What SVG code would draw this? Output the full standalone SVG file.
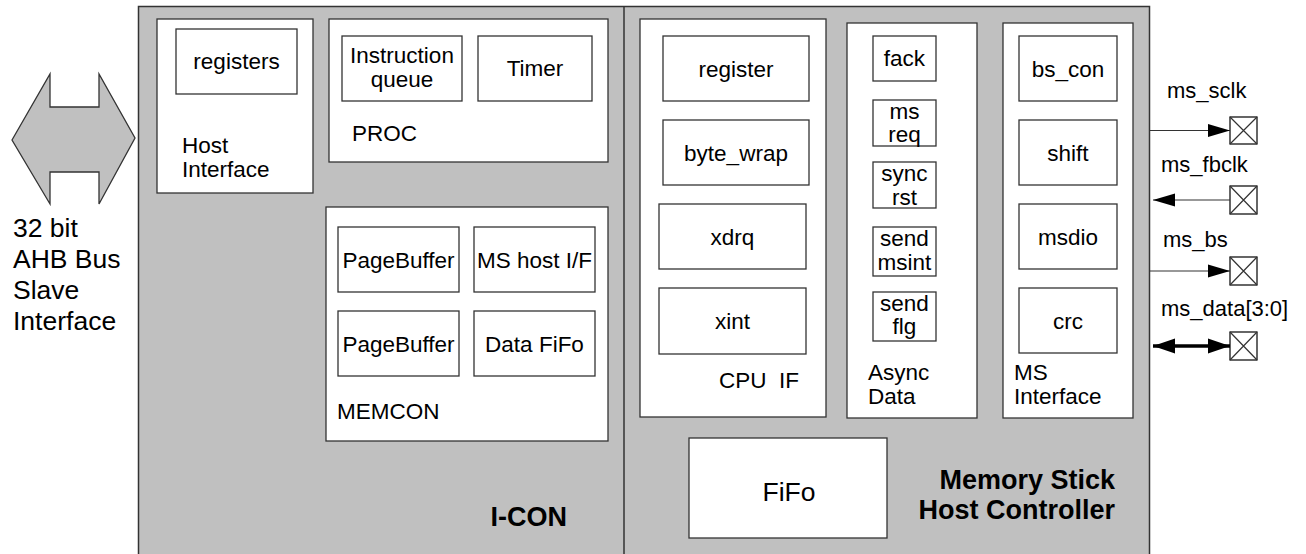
<svg xmlns="http://www.w3.org/2000/svg" width="1306" height="554" viewBox="0 0 1306 554">
<style>
  .bg { fill: #c0c0c0; stroke: #333; stroke-width: 1.5; }
  .box { fill: #fff; stroke: #333; stroke-width: 1.3; }
  text { font-family: "Liberation Sans", Arial, sans-serif; font-size: 22.5px; fill: #000; }
  .c { text-anchor: middle; }
  .big { font-size: 26.5px; }
  .bold { font-size: 27px; font-weight: bold; text-anchor: end; }
  .sig { font-size: 22px; }
  .wire { stroke: #333; stroke-width: 1.2; fill: none; }
  .bus { stroke: #000; stroke-width: 3.5; fill: none; }
  .pad { fill: #fff; stroke: #000; stroke-width: 1.2; }
</style>
<defs>
  <marker id="ah" markerUnits="userSpaceOnUse" markerWidth="24" markerHeight="14" refX="22" refY="7" orient="auto-start-reverse">
    <polygon points="0,0.5 22,7 0,13.5" fill="#000"/>
  </marker>
  <marker id="ahb" markerUnits="userSpaceOnUse" markerWidth="24" markerHeight="16" refX="22" refY="8" orient="auto-start-reverse">
    <polygon points="0,0.5 22,8 0,15.5" fill="#000"/>
  </marker>
</defs>

<!-- background containers -->
<g id="chip">
  <rect class="bg" x="138.5" y="6.5" width="1011" height="560"/>
  <line x1="624" y1="6.5" x2="624" y2="554" stroke="#333" stroke-width="1.5"/>
  <text class="bold" x="567" y="526">I-CON</text>
  <text class="bold" x="1115" y="489">Memory Stick</text>
  <text class="bold" x="1115" y="519">Host Controller</text>
</g>

<!-- AHB bus -->
<g id="ahb-bus">
  <polygon points="12,140 50,74 50,107 99,107 99,74 135,138 99,204 99,172 50,172 50,204" fill="#c0c0c0" stroke="#333" stroke-width="1.3"/>
  <text class="big" x="13" y="237">32 bit</text>
  <text class="big" x="13" y="268">AHB Bus</text>
  <text class="big" x="13" y="299">Slave</text>
  <text class="big" x="13" y="330">Interface</text>
</g>

<g id="host-interface">
  <rect class="box" x="157" y="19" width="156" height="174"/>
  <rect class="box" x="176" y="29" width="121" height="65"/>
  <text class="c" x="236.5" y="69">registers</text>
  <text x="182" y="153">Host</text>
  <text x="182" y="177">Interface</text>
</g>

<g id="proc">
  <rect class="box" x="329" y="19" width="279" height="143"/>
  <rect class="box" x="342" y="36" width="120" height="65"/>
  <text class="c" x="402" y="63">Instruction</text>
  <text class="c" x="402" y="87">queue</text>
  <rect class="box" x="478" y="36" width="114" height="65"/>
  <text class="c" x="535" y="76">Timer</text>
  <text x="352" y="141">PROC</text>
</g>

<g id="memcon">
  <rect class="box" x="326" y="207" width="282" height="234"/>
  <rect class="box" x="338" y="227" width="121" height="65"/>
  <text class="c" x="398.5" y="267.5">PageBuffer</text>
  <rect class="box" x="474" y="227" width="121" height="65"/>
  <text class="c" x="534.5" y="267.5">MS host I/F</text>
  <rect class="box" x="338" y="311" width="121" height="65"/>
  <text class="c" x="398.5" y="351.5">PageBuffer</text>
  <rect class="box" x="474" y="311" width="121" height="65"/>
  <text class="c" x="534.5" y="351.5">Data FiFo</text>
  <text x="337" y="419">MEMCON</text>
</g>

<g id="cpu-if">
  <rect class="box" x="640" y="19" width="186" height="398"/>
  <rect class="box" x="663" y="36" width="146" height="65"/>
  <text class="c" x="736" y="76.5">register</text>
  <rect class="box" x="663" y="120" width="146" height="65"/>
  <text class="c" x="736" y="160.5">byte_wrap</text>
  <rect class="box" x="659" y="204" width="147" height="65"/>
  <text class="c" x="732.5" y="244.5">xdrq</text>
  <rect class="box" x="659" y="288" width="147" height="66"/>
  <text class="c" x="732.5" y="329">xint</text>
  <text x="719" y="388" xml:space="preserve">CPU  IF</text>
</g>

<g id="async-data">
  <rect class="box" x="847" y="23" width="130" height="395"/>
  <rect class="box" x="873" y="36" width="63" height="45"/>
  <text class="c" x="904.5" y="66">fack</text>
  <rect class="box" x="873" y="100" width="63" height="46"/>
  <text class="c" x="904.5" y="119">ms</text>
  <text class="c" x="904.5" y="142">req</text>
  <rect class="box" x="873" y="162" width="63" height="46"/>
  <text class="c" x="904.5" y="181">sync</text>
  <text class="c" x="904.5" y="205">rst</text>
  <rect class="box" x="873" y="227" width="63" height="49"/>
  <text class="c" x="904.5" y="246">send</text>
  <text class="c" x="904.5" y="270">msint</text>
  <rect class="box" x="873" y="292" width="63" height="49"/>
  <text class="c" x="904.5" y="311">send</text>
  <text class="c" x="904.5" y="334">flg</text>
  <text x="868" y="380">Async</text>
  <text x="868" y="404">Data</text>
</g>

<g id="ms-interface">
  <rect class="box" x="1003" y="23" width="130" height="395"/>
  <rect class="box" x="1019" y="36" width="98" height="65"/>
  <text class="c" x="1068" y="76.5">bs_con</text>
  <rect class="box" x="1019" y="120" width="98" height="65"/>
  <text class="c" x="1068" y="160.5">shift</text>
  <rect class="box" x="1019" y="204" width="98" height="65"/>
  <text class="c" x="1068" y="244.5">msdio</text>
  <rect class="box" x="1019" y="288" width="98" height="65"/>
  <text class="c" x="1068" y="328.5">crc</text>
  <text x="1014" y="380">MS</text>
  <text x="1014" y="404">Interface</text>
</g>

<g id="fifo">
  <rect class="box" x="689" y="438" width="198" height="100"/>
  <text class="c big" x="789" y="501">FiFo</text>
</g>

<!-- pads -->
<g id="pad-ms_sclk">
  <rect class="pad" x="1230" y="117" width="27" height="27"/>
  <path class="wire" d="M1230,117 L1257,144 M1257,117 L1230,144" stroke="#000"/>
  <text class="sig" x="1167" y="98">ms_sclk</text>
</g>
<g id="pad-ms_fbclk">
  <rect class="pad" x="1230" y="186" width="27" height="28"/>
  <path class="wire" d="M1230,186 L1257,214 M1257,186 L1230,214" stroke="#000"/>
  <text class="sig" x="1161" y="172">ms_fbclk</text>
</g>
<g id="pad-ms_bs">
  <rect class="pad" x="1230" y="257" width="27" height="28"/>
  <path class="wire" d="M1230,257 L1257,285 M1257,257 L1230,285" stroke="#000"/>
  <text class="sig" x="1163" y="247">ms_bs</text>
</g>
<g id="pad-ms_data">
  <rect class="pad" x="1230" y="332" width="27" height="28"/>
  <path class="wire" d="M1230,332 L1257,360 M1257,332 L1230,360" stroke="#000"/>
  <text class="sig" x="1161" y="316">ms_data[3:0]</text>
</g>

<!-- connectors -->
<g id="connectors">
  <line class="wire" x1="1150" y1="130.5" x2="1230" y2="130.5" marker-end="url(#ah)"/>
  <line class="wire" x1="1230" y1="200" x2="1153" y2="200" marker-end="url(#ah)"/>
  <line class="wire" x1="1150" y1="271" x2="1230" y2="271" marker-end="url(#ah)"/>
  <line class="bus" x1="1153" y1="346" x2="1230" y2="346" marker-start="url(#ahb)" marker-end="url(#ahb)"/>
</g>
</svg>
